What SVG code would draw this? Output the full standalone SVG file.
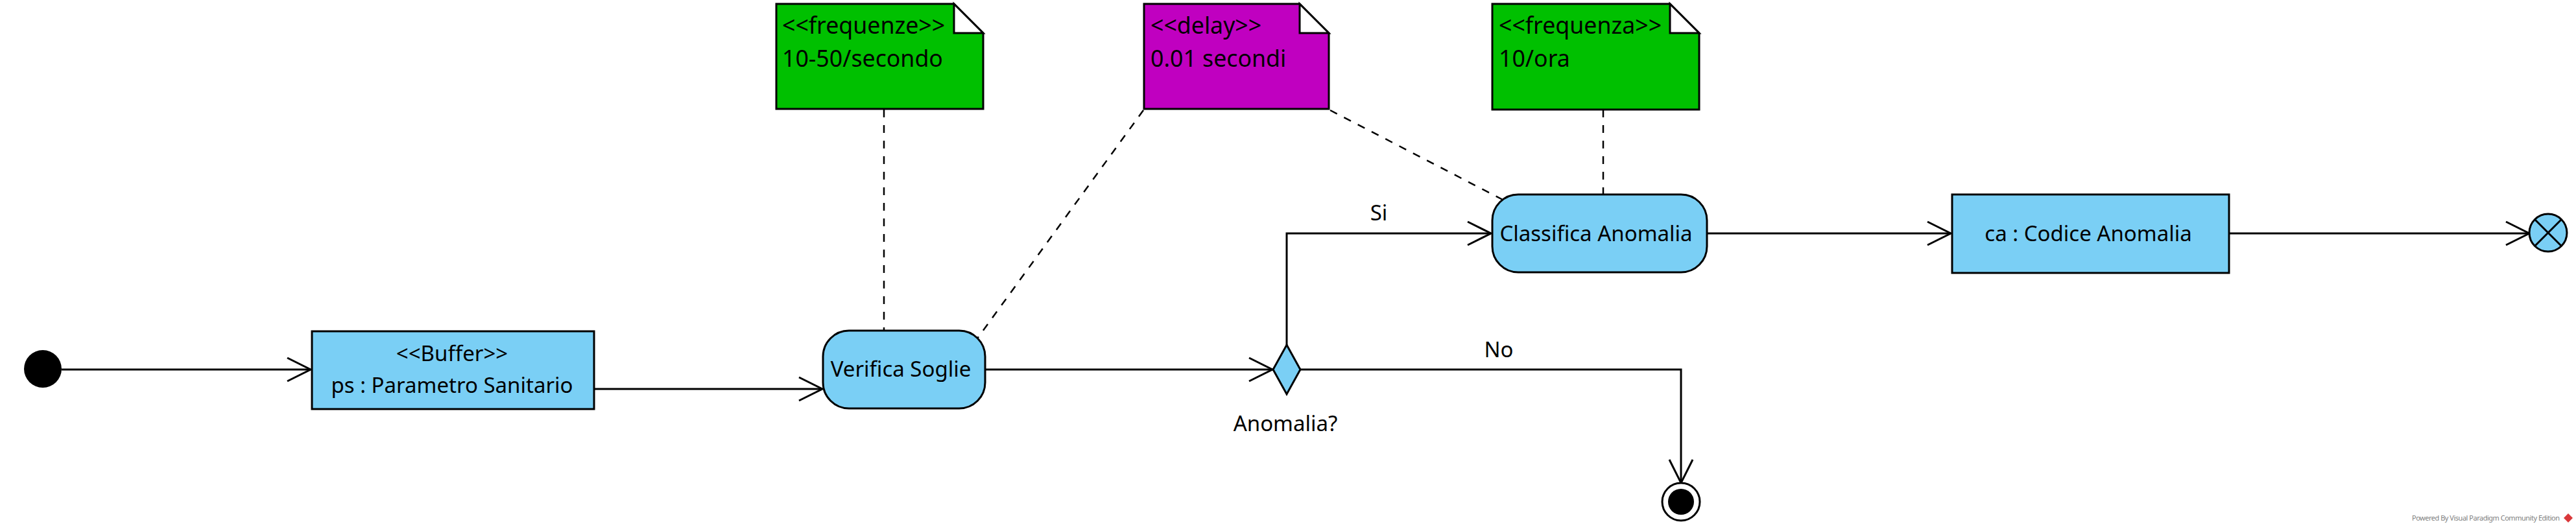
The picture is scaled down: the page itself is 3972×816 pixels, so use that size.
<svg xmlns="http://www.w3.org/2000/svg" width="3972" height="816" viewBox="0 0 3972 816">
<style>
text{font-family:"Noto Sans","Open Sans","DejaVu Sans",sans-serif;fill:#000}
.n{font-size:33px;text-anchor:middle}
.nt{font-size:35.7px}
.lbl{font-size:33px;text-anchor:middle}
.box{fill:#7ACFF5;stroke:#000;stroke-width:3}
.edge{fill:none;stroke:#000;stroke-width:3}
.dash{fill:none;stroke:#000;stroke-width:2.5;stroke-dasharray:12 12}
.fold{fill:#fff;stroke:#000;stroke-width:3;stroke-linejoin:miter}
.wm{font-size:11px;fill:#808080}
</style>
<defs>
<marker id="arr" markerUnits="userSpaceOnUse" viewBox="-40 -22 44 44" markerWidth="44" markerHeight="44" refX="0" refY="0" orient="auto">
<path d="M-36,-18 L0,0 L-36,18" fill="none" stroke="#000" stroke-width="3"/>
</marker>
</defs>

<g id="connectors">
<path class="edge" d="M95,570 H479" marker-end="url(#arr)"/>
<path class="edge" d="M916,600 H1268" marker-end="url(#arr)"/>
<path class="edge" d="M1519,570 H1962" marker-end="url(#arr)"/>
<path class="edge" d="M1984,532 V360 H2299" marker-end="url(#arr)"/>
<path class="edge" d="M2005,570 H2592 V745" marker-end="url(#arr)"/>
<path class="edge" d="M2632,360 H3008" marker-end="url(#arr)"/>
<path class="edge" d="M3437,360 H3900" marker-end="url(#arr)"/>
<path class="dash" d="M1363,169 V510"/>
<path class="dash" d="M1763,170 L1507,522"/>
<path class="dash" d="M2051,170 L2317,308"/>
<path class="dash" d="M2472,169 V300"/>
<text class="lbl" x="2126" y="340">Si</text>
<text class="lbl" x="2311" y="551">No</text>
</g>

<g id="initial">
<circle cx="66" cy="569" r="29" fill="#000"/>
</g>

<g id="buffer">
<rect class="box" x="481" y="511" width="435" height="120"/>
<text class="n" x="697" y="557">&lt;&lt;Buffer&gt;&gt;</text>
<text class="n" x="697" y="606">ps : Parametro Sanitario</text>
</g>

<g id="verifica">
<rect class="box" x="1269" y="510" width="250" height="120" rx="40" ry="40"/>
<text class="n" x="1389" y="581">Verifica Soglie</text>
</g>

<g id="decision">
<polygon class="box" points="1984,532 2005,570 1984,608 1963,570"/>
<text class="lbl" x="1982" y="665">Anomalia?</text>
</g>

<g id="classifica">
<rect class="box" x="2301" y="300" width="331" height="120" rx="40" ry="40"/>
<text class="n" x="2461" y="372">Classifica Anomalia</text>
</g>

<g id="codice">
<rect class="box" x="3010" y="300" width="427" height="121"/>
<text class="n" x="3220" y="372">ca : Codice Anomalia</text>
</g>

<g id="flowfinal">
<circle cx="3929" cy="359" r="29" fill="#7ACFF5" stroke="#000" stroke-width="3"/>
<path d="M3908.5,338.5 L3949.5,379.5 M3949.5,338.5 L3908.5,379.5" stroke="#000" stroke-width="3"/>
</g>

<g id="final">
<circle cx="2592" cy="774" r="29" fill="#fff" stroke="#000" stroke-width="3"/>
<circle cx="2592" cy="774" r="20" fill="#000"/>
</g>

<g id="note-frequenze">
<polygon points="1197,6 1471,6 1516,51 1516,168 1197,168" fill="#00C000" stroke="#000" stroke-width="3"/>
<polygon class="fold" points="1471,6 1471,51 1516,51"/>
<text class="nt" x="1206" y="52">&lt;&lt;frequenze&gt;&gt;</text>
<text class="nt" x="1206" y="103">10-50/secondo</text>
</g>

<g id="note-delay">
<polygon points="1764,6 2004,6 2049,51 2049,168 1764,168" fill="#C000C0" stroke="#000" stroke-width="3"/>
<polygon class="fold" points="2004,6 2004,51 2049,51"/>
<text class="nt" x="1774" y="52">&lt;&lt;delay&gt;&gt;</text>
<text class="nt" x="1774" y="103">0.01 secondi</text>
</g>

<g id="note-frequenza">
<polygon points="2301,6 2575,6 2620,51 2620,169 2301,169" fill="#00C000" stroke="#000" stroke-width="3"/>
<polygon class="fold" points="2575,6 2575,51 2620,51"/>
<text class="nt" x="2311" y="52">&lt;&lt;frequenza&gt;&gt;</text>
<text class="nt" x="2311" y="103">10/ora</text>
</g>

<g id="watermark">
<text class="wm" x="3719" y="803" textLength="228" lengthAdjust="spacing">Powered By  Visual Paradigm Community Edition</text>
<polygon points="3960,792 3967,799 3960,806 3953,799" fill="#D9383A"/>
</g>
</svg>
